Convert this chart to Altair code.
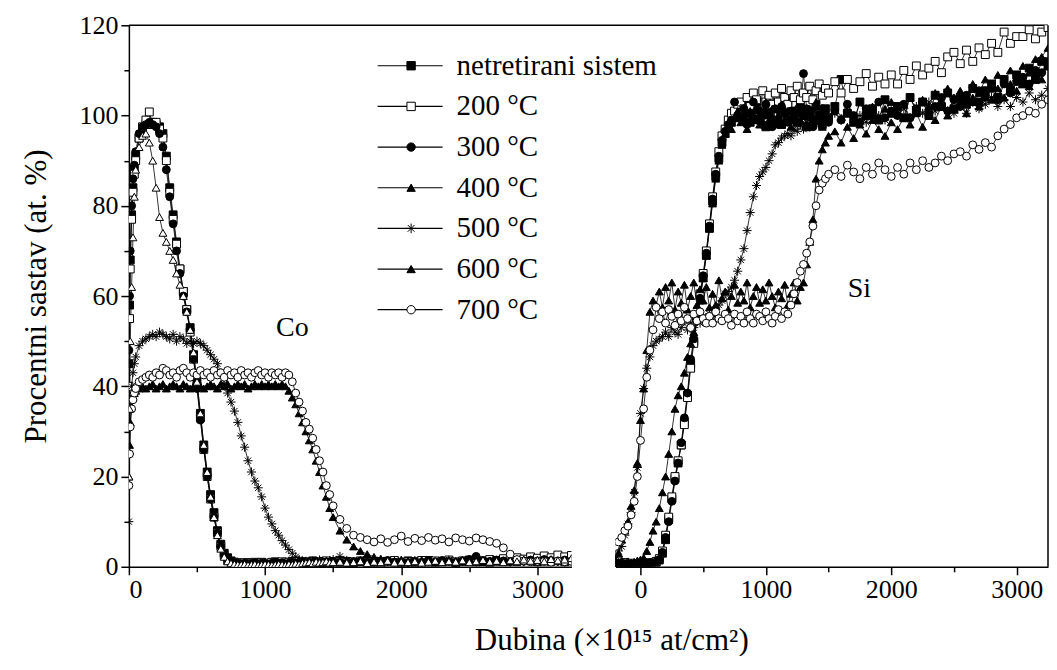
import altair as alt
import pandas as pd

# ---------------- data ----------------
SERIES = ["netretirani sistem", "200 °C", "300 °C", "400 °C", "500 °C", "600 °C", "700 °C"]
ASTERISK = "M-1.15,0L1.15,0M0,-1.15L0,1.15M-0.8,-0.8L0.8,0.8M-0.8,0.8L0.8,-0.8"
SHAPES = ["square", "square", "circle", "triangle-up", ASTERISK, "triangle-up", "circle"]
FILLS = ["black", "white", "black", "black", "black", "black", "white"]
LINE_COLORS = ["black", "black", "black", "black", "black", "black", "black"]

Y_TICKS = [0, 10, 20, 30, 40, 50, 60, 70, 80, 90, 100, 110, 120]
X_TICKS = [0, 500, 1000, 1500, 2000, 2500, 3000]

# Co panel depth grid
CO_X = [0, 5, 10, 20, 30, 40, 50,
        75, 100, 125, 150, 175, 200, 225, 250, 275, 300,
        325, 350, 375, 400, 425, 450, 475, 500, 525, 550,
        575, 600, 625, 650, 675, 700, 725, 750, 775, 800,
        825, 850, 875, 900, 925, 950, 975, 1000, 1025, 1050,
        1075, 1100, 1125, 1150, 1175, 1200, 1225, 1250, 1275, 1300,
        1325, 1350, 1375, 1400, 1425, 1450, 1475, 1500,
        1550, 1600, 1650, 1700, 1750, 1800, 1850, 1900, 1950, 2000,
        2050, 2100, 2150, 2200, 2250, 2300, 2350, 2400, 2450, 2500,
        2550, 2600, 2650, 2700, 2750, 2800, 2850, 2900, 2950, 3000,
        3050, 3100, 3150, 3200, 3250]

CO_NETRETIRANI = [45, 58, 68, 78, 84, 88, 91,
                  95, 97, 98, 98.5, 98.5, 98, 97.5, 96, 91, 84,
                  78, 72, 66, 61, 57, 53, 47, 41, 34, 27,
                  21, 16, 12, 8, 5, 3, 2, 1.3, 1.0, 0.8,
                  0.8, 0.6, 0.9, 0.7, 0.5, 0.8, 1.0, 0.7, 0.6, 0.9,
                  1.1, 0.8, 0.7, 1.0, 0.9, 1.2, 1.0, 0.8, 1.1, 0.9,
                  1.0, 1.3, 0.9, 1.0, 1.2, 0.8, 1.0, 1.1,
                  1.0, 1.2, 0.9, 1.1, 1.3, 1.0, 0.8, 1.2, 1.1, 0.9,
                  1.3, 1.0, 1.2, 1.4, 1.0, 1.1, 1.3, 0.9, 1.2, 1.5,
                  1.1, 1.3, 1.0, 1.4, 1.2, 1.6, 1.3, 1.5, 1.8, 1.4,
                  1.7, 1.5, 1.9, 1.6, 1.8]
CO_200 = [40, 55, 66, 77, 83, 87, 90,
          95, 97.5, 99, 100.8, 98, 98.5, 97, 95, 90, 83,
          77, 71.5, 66, 61, 57, 52, 46, 40, 33, 26,
          20, 15, 11, 7.5, 4.5, 2.5, 1.5, 1.2, 1.0, 0.9,
          0.7, 0.9, 0.6, 0.8, 1.0, 0.7, 0.9, 0.6, 0.8, 1.0,
          0.9, 0.7, 1.1, 0.8, 1.0, 0.9, 1.2, 0.8, 1.0, 1.1,
          0.9, 1.2, 1.0, 0.8, 1.1, 1.3, 0.9, 1.0,
          1.2, 0.9, 1.1, 1.3, 1.0, 1.2, 0.9, 1.1, 1.4, 1.0,
          1.2, 1.1, 1.4, 1.0, 1.3, 1.2, 1.5, 1.1, 1.3, 1.2,
          1.5, 1.2, 1.6, 1.4, 1.8, 1.5, 2.0, 1.7, 2.2, 1.9,
          2.4, 2.0, 2.6, 2.2, 2.5]
CO_300 = [48, 60, 70, 80, 86, 89, 92,
          96, 97.5, 98, 98.5, 98, 97.5, 96, 93, 88, 82,
          76, 70, 65, 60, 56.5, 52.5, 46, 39.5, 32.5, 26,
          20, 15, 11, 7.5, 4.5, 2.6, 1.6, 1.1, 0.9, 0.7,
          0.6, 0.8, 0.5, 0.7, 0.9, 0.6, 0.8, 0.7, 0.5, 0.8,
          1.0, 0.7, 0.9, 0.6, 0.8, 1.0, 0.7, 0.9, 1.1, 0.8,
          1.0, 0.9, 1.2, 0.8, 1.0, 1.1, 0.9, 1.2,
          1.0, 0.8, 1.1, 1.3, 0.9, 1.0, 1.2, 1.4, 1.0, 1.1,
          0.9, 1.2, 1.0, 1.3, 1.1, 1.4, 1.2, 1.0, 1.3, 1.6,
          2.3, 1.4, 1.2, 1.5, 1.3, 1.1, 1.4, 1.2, 1.5, 1.3,
          1.6, 1.4, 1.2, 1.5, 1.3]
CO_400 = [20, 35, 50, 62, 73, 82, 88,
          93, 95.5, 96, 94, 90, 84, 77.5, 74, 72, 70,
          68, 65, 62.5, 60, 56.5, 52.5, 47.5, 41, 34, 27,
          21, 15.5, 11, 7, 4, 2.2, 1.2, 0.8, 0.6, 0.5,
          0.5, 0.6, 0.4, 0.5, 0.6, 0.4, 0.5, 0.6, 0.5, 0.4,
          0.5, 0.6, 0.5, 0.4, 0.6, 0.5, 0.7, 0.6, 0.8, 0.9,
          1.0, 0.8, 1.1, 0.9, 1.0, 1.2, 0.9, 1.0,
          1.1, 0.9, 1.0, 1.2, 0.8, 1.1, 1.0, 1.3, 0.9, 1.1,
          1.0, 1.2, 0.9, 1.1, 1.3, 1.0, 1.2, 1.1, 1.4, 1.0,
          1.2, 1.5, 1.1, 1.3, 1.0, 1.4, 1.2, 1.6, 1.3, 1.5,
          1.2, 1.7, 1.4, 1.6, 1.9]
CO_500 = [10, 25, 35, 40, 43, 45, 46.5,
          49, 50, 50.5, 51, 51.5, 51, 52, 51.5, 51, 50.5,
          51.5, 50, 51, 50.5, 49.5, 50, 49.5, 50, 49.5, 49,
          48, 47, 46, 45, 43, 40.5, 38.5, 36.5, 34.5, 32,
          29, 26.5, 23.5, 21, 19, 17.5, 15.5, 13, 11, 9.5,
          8, 7, 5.8, 4.8, 3.8, 3, 2.2, 1.6, 1.3, 1.2,
          1.0, 1.3, 1.1, 1.5, 1.2, 1.0, 1.4, 1.6,
          2.3, 1.4, 1.1, 1.3, 1.0, 1.2, 1.5, 1.1, 1.3, 1.0,
          1.2, 1.4, 1.1, 1.3, 1.0, 1.2, 1.5, 1.1, 1.3, 1.2,
          1.0, 1.3, 1.1, 1.4, 1.2, 1.0, 1.3, 1.1, 1.2, 1.0,
          1.3, 1.1, 1.2, 1.0, 1.1]
CO_600 = [20, 27, 32, 35.5, 37.5, 38.5, 39,
          39.5, 40, 39.5, 40, 40.5, 39.5, 40, 40.5, 39.5, 40,
          40.5, 40, 39.5, 40.5, 40, 39.5, 40, 40.5, 40, 39.5,
          40, 40.5, 40, 39.5, 40.5, 40, 40.5, 39.5, 40, 40.5,
          40, 40.5, 39.5, 40, 40.5, 40, 40.5, 40, 40.5, 40,
          40.5, 40, 40.5, 40, 39, 37.5, 36, 34, 32, 30,
          28, 26, 23.5, 21, 18, 15.5, 13, 11,
          8, 6, 4.5, 3.5, 2.8, 2.2, 1.8, 1.5, 1.3, 1.6,
          1.4, 1.2, 1.5, 1.3, 1.1, 1.4, 1.2, 1.0, 1.3, 1.1,
          1.2, 1.0, 1.3, 1.1, 1.2, 1.4, 1.1, 1.3, 1.2, 1.0,
          1.2, 1.1, 1.3, 1.0, 1.2]
CO_700 = [18, 25, 31, 35, 37, 38.5, 39.5,
          41, 41.5, 42, 42.5, 42, 43, 42.5, 44, 43.5, 42.5,
          43, 42, 43.5, 44, 43, 42, 43, 42.5, 43.5, 42.5,
          43, 42, 43.5, 42.5, 43, 42, 43.5, 42.5, 43, 42,
          43.5, 42.5, 43, 42, 43, 43.5, 42.5, 43, 42, 43,
          42.5, 43, 42, 43, 42.5, 41, 38.5, 36.5, 34.5, 32,
          30.5, 28.5, 26, 23.5, 21, 18, 16, 13.5,
          10.5, 8.5, 7, 6.5, 6, 5.5, 6.2, 5.4, 6.0, 6.8,
          5.6, 6.3, 5.8, 6.5, 5.9, 6.2, 5.5, 6.4, 6.0, 5.7,
          6.4, 6.0, 5.6, 5.2, 4.2, 2.8, 1.6, 1.3, 1.1, 1.2,
          1.2, 1.0, 1.3, 1.1, 1.2]

# Si panel depth grid
SI_X = [-200, -175, -150, -125, -100, -75, -50, -25, 0, 25,
        50, 75, 100, 125, 150, 175, 200, 225, 250, 275,
        300, 325, 350, 375, 400, 425, 450, 475, 500, 525,
        550, 575, 600, 625, 650, 675, 700, 725, 750, 775,
        800, 825, 850, 875, 900, 925, 950, 975, 1000, 1025,
        1050, 1075, 1100, 1125, 1150, 1175, 1200, 1225, 1250, 1275,
        1300, 1325, 1350, 1375, 1400, 1425, 1450, 1475, 1500,
        1550, 1600, 1650, 1700, 1750, 1800, 1850, 1900, 1950, 2000,
        2050, 2100, 2150, 2200, 2250, 2300, 2350, 2400, 2450, 2500,
        2550, 2600, 2650, 2700, 2750, 2800, 2850, 2900, 2950, 3000,
        3050, 3100, 3150, 3200, 3250]

SI_NETRETIRANI = [1.0, 0.8, 0.6, 0.9, 0.5, 0.7, 0.4, 0.6, 0.5, 0.7,
                  0.6, 0.8, 0.7, 1.0, 1.5, 3.0, 6.0, 10.5, 15.0, 19.5,
                  23.0, 27.0, 32.0, 38.0, 45.0, 50.0, 55.0, 60.0, 64.0, 69.0,
                  75.0, 81.0, 86.5, 90.5, 94.0, 96.0, 97.5, 98.5, 99.5, 100.5,
                  101.0, 99.0, 102.5, 98.5, 100.0, 103.0, 99.5, 101.0, 97.5, 100.5,
                  102.0, 99.0, 101.5, 98.0, 100.5, 103.0, 99.0, 101.0, 98.5, 102.0,
                  100.0, 97.5, 101.0, 99.0, 102.5, 100.0, 98.0, 101.5, 99.5,
                  102.0, 108.0, 100.5, 98.5, 103.0, 100.0, 101.5, 99.0, 103.5, 100.5,
                  102.0, 99.5, 104.0, 101.0, 103.0, 100.0, 104.5, 102.0, 105.0, 101.5,
                  104.0, 102.5, 106.0, 103.0, 105.5, 107.0, 104.0, 108.0, 105.5, 109.0,
                  107.0, 110.5, 108.0, 112.0, 111.0]
SI_200 = [0.8, 1.1, 0.7, 0.9, 0.6, 0.8, 0.5, 0.7, 0.6, 0.8,
          0.7, 0.9, 0.8, 1.2, 1.8, 3.5, 7.0, 11.0, 15.5, 20.0,
          23.5, 27.0, 31.5, 37.5, 44.0, 49.5, 55.0, 60.5, 65.0, 70.0,
          76.0, 82.0, 87.5, 92.0, 95.5, 97.0, 99.0, 100.5, 101.0, 102.5,
          103.0, 101.5, 104.0, 102.0, 105.0, 103.5, 101.0, 105.5, 103.0, 104.5,
          102.5, 105.0, 103.0, 106.0, 104.0, 102.5, 105.5, 104.0, 106.5, 103.5,
          105.0, 104.0, 106.5, 103.5, 105.5, 107.0, 104.5, 106.0, 105.0,
          107.5, 105.0, 108.0, 106.0, 107.5, 109.3, 106.5, 108.5, 107.0, 109.0,
          107.0, 110.0, 108.0, 111.0, 109.0, 110.5, 112.0, 109.5, 113.0, 114.0,
          111.5, 114.5, 112.0, 115.0, 113.5, 116.0, 114.0, 118.5, 116.0, 117.5,
          117.5, 119.0, 117.0, 118.5, 119.5]
SI_300 = [0.9, 0.6, 0.8, 0.5, 0.7, 0.4, 0.6, 0.5, 0.8, 0.6,
          0.7, 0.9, 0.8, 1.1, 1.6, 3.2, 6.5, 10.0, 14.5, 19.0,
          23.0, 27.5, 33.0, 38.5, 46.0, 50.5, 55.0, 59.5, 64.5, 69.5,
          75.5, 81.5, 87.0, 91.0, 94.5, 96.5, 98.0, 99.0, 103.0, 100.0,
          99.5, 101.5, 98.0, 100.5, 103.0, 99.0, 101.0, 98.0, 102.5, 100.0,
          97.5, 101.5, 99.0, 102.0, 100.5, 98.5, 101.0, 99.5, 101.0, 100.5,
          109.3, 101.5, 100.0, 97.5, 102.0, 99.0, 101.5, 100.0, 98.5,
          101.0, 99.0, 102.5, 100.0, 98.5, 101.5, 100.0, 103.0, 99.5, 101.0,
          100.0, 102.5, 99.5, 101.5, 103.0, 100.5, 102.0, 104.0, 101.0, 103.5,
          102.0, 104.5, 103.0, 105.5, 104.0, 106.0, 103.5, 107.0, 105.0, 107.5,
          108.5, 107.0, 110.0, 109.5, 112.0]
SI_400 = [1.5, 1.0, 1.3, 0.8, 1.2, 0.9, 1.1, 1.4, 1.6, 2.0,
          3.5, 5.5, 8.0, 10.0, 13.0, 16.5, 20.0, 25.0, 30.0, 35.0,
          38.0, 40.0, 43.0, 46.5, 49.5, 52.0, 55.0, 59.0, 64.0, 69.0,
          75.0, 80.5, 86.0, 90.0, 93.5, 96.0, 98.0, 97.0, 99.5, 101.0,
          98.5, 100.5, 97.0, 101.0, 99.0, 102.0, 98.0, 100.0, 103.0, 99.0,
          101.5, 98.0, 100.0, 102.5, 99.0, 101.0, 97.5, 100.5, 102.0, 99.0,
          100.5, 98.0, 101.5, 99.0, 103.0, 100.0, 97.5, 101.0, 99.5,
          102.0, 99.5, 101.0, 98.5, 103.0, 100.0, 102.0, 99.0, 101.5, 103.0,
          100.5, 102.5, 104.0, 101.0, 103.5, 102.0, 105.0, 103.0, 106.0, 104.0,
          105.5, 104.0, 107.0, 105.0, 108.0, 106.5, 109.0, 107.5, 110.0, 108.5,
          111.0, 109.5, 112.5, 113.0, 115.0]
SI_500 = [2.5, 3.5, 4.5, 7.0, 9.5, 12.0, 16.5, 22.0, 34.0, 39.5,
          44.0, 46.5, 49.0, 50.0, 50.5, 51.0, 52.0, 51.0, 53.0, 52.0,
          51.5, 53.0, 54.5, 52.5, 54.0, 53.0, 55.0, 54.0, 55.5, 55.0,
          56.0, 55.5, 57.0, 58.0, 59.0, 60.5, 61.0, 62.0, 63.5, 65.5,
          68.0, 70.5, 74.5, 78.5, 82.0, 84.5, 86.5, 87.5, 88.5, 90.0,
          91.5, 93.5, 94.0, 95.0, 95.5, 96.0, 95.5, 97.0, 96.5, 98.0,
          97.0, 98.5, 97.5, 99.0, 98.0, 99.5, 98.5, 100.0, 99.0,
          100.5, 99.0, 101.0, 99.5, 100.0, 98.5, 101.5, 100.0, 99.0, 101.0,
          100.0, 101.5, 99.5, 102.0, 100.5, 103.0, 101.0, 102.5, 101.0, 100.5,
          102.0, 100.5, 103.0, 101.5, 102.5, 104.0, 102.0, 103.5, 102.0, 104.0,
          103.0, 105.0, 103.5, 104.5, 106.0]
SI_600 = [1.5, 3.0, 6.0, 8.0, 10.0, 13.5, 17.0, 23.0, 32.5, 39.5,
          48.0, 56.5, 59.0, 58.0, 61.0, 57.5, 62.0, 59.0, 63.0, 57.0,
          61.0, 58.5, 62.5, 57.0, 60.0, 63.0, 58.0, 61.5, 59.0, 62.0,
          57.5, 60.5, 58.0, 63.5, 59.5, 61.0, 57.0, 60.0, 62.5, 58.5,
          61.0, 59.0, 63.0, 57.5, 60.0, 62.0, 58.5, 61.5, 59.0, 63.0,
          60.0, 57.5, 61.0, 59.5, 62.5, 58.0, 60.5, 63.0, 59.0, 62.0,
          63.0, 67.0, 72.0, 77.0, 86.0, 90.0, 92.5, 94.0, 95.5,
          96.5, 94.0, 97.5, 95.0, 98.0, 96.0, 99.0, 97.0, 95.5, 98.5,
          97.0, 99.5, 98.0, 100.5, 97.5, 101.0, 99.0, 102.0, 100.0, 101.5,
          103.0, 100.5, 104.0, 102.0, 105.0, 103.5, 106.0, 104.0, 107.0, 105.5,
          108.0, 106.5, 109.5, 108.0, 111.0]
SI_700 = [4.5, 5.5, 6.5, 8.0, 9.0, 11.5, 14.5, 20.0, 28.0, 35.0,
          42.0, 48.0, 52.5, 57.5, 55.0, 56.5, 54.0, 57.0, 55.5, 53.5,
          56.0, 54.5, 57.5, 55.0, 53.0, 56.0, 54.5, 56.5, 55.0, 54.0,
          55.5, 54.0, 56.5, 55.0, 54.5, 56.0, 55.0, 53.5, 56.0, 54.5,
          55.5, 54.0, 56.5, 55.0, 54.0, 56.0, 55.5, 54.5, 56.5, 55.0,
          54.0, 55.5, 57.0, 55.0, 56.5, 56.0, 58.0, 60.5, 63.0, 65.5,
          67.0, 69.5, 72.0, 75.5, 80.0, 83.5, 85.0, 86.0, 87.0,
          88.0, 86.5, 89.0, 87.5, 86.0, 88.5, 87.0, 89.5, 88.0, 86.5,
          88.5, 87.0, 89.5, 88.0, 90.0, 88.5, 89.5, 91.0, 90.0, 91.5,
          92.0, 91.0, 93.5, 92.5, 94.0, 93.0, 95.5, 97.0, 98.0, 99.5,
          100.0, 101.0, 100.5, 102.5, 103.5]

CO_Y = [CO_NETRETIRANI, CO_200, CO_300, CO_400, CO_500, CO_600, CO_700]
SI_Y = [SI_NETRETIRANI, SI_200, SI_300, SI_400, SI_500, SI_600, SI_700]

PANEL_LABEL_TEXT = ["Co", "Si"]
PANEL_LABEL_X = [1200, 1745]
PANEL_LABEL_Y = [53, 61.5]

X_TITLE = "Dubina (×10¹⁵ at/cm²)"
Y_TITLE = "Procentni sastav (at. %)"

# line-legend keys differ from the marker-legend keys so the two legends stay separate
LINE_KEYS = [s + "\u200b" for s in SERIES]


def long_frame(xs, ys_list):
    rows = []
    for name, key, ys in zip(SERIES, LINE_KEYS, ys_list):
        assert len(xs) == len(ys), (name, len(xs), len(ys))
        for x, y in zip(xs, ys):
            rows.append({"x": x, "y": y, "series": name, "series_l": key})
    return pd.DataFrame(rows)


co_df = long_frame(CO_X, CO_Y)
si_df = long_frame(SI_X, SI_Y)

# ---------------- layout ----------------
W1, W2, H, GAP = 443, 433, 542, 44
FONT = "Liberation Serif"

shape_scale = alt.Scale(domain=SERIES, range=SHAPES)
fill_scale = alt.Scale(domain=SERIES, range=FILLS)
stroke_scale = alt.Scale(domain=SERIES, range=LINE_COLORS)
line_scale = alt.Scale(domain=LINE_KEYS, range=LINE_COLORS)
y_scale = alt.Scale(domain=[0, 120], nice=False, zero=False)

SHAPE_LEGEND = alt.Legend(
    orient="none", legendX=268, legendY=26, title=None, padding=0,
    symbolSize=70, symbolStrokeColor="black", symbolStrokeWidth=1,
    labelFont=FONT, labelFontSize=29, labelColor="black", labelLimit=400,
    labelOffset=31, rowPadding=10.7,
)
LINE_LEGEND = alt.Legend(
    orient="none", legendX=267, legendY=26, title=None, padding=0,
    symbolType="M-6.5,0L6.5,0", symbolSize=100, symbolStrokeColor="black",
    symbolStrokeWidth=1.2, labelFont=FONT, labelFontSize=29, labelOpacity=0,
    labelExpr="''", labelLimit=400, rowPadding=10.7,
)

x_axis = alt.Axis(
    values=X_TICKS, format="d", title=None, grid=False,
    labelExpr="datum.value % 1000 == 0 ? datum.label : ''",
    tickSize={"condition": {"test": "datum.value % 1000 == 0", "value": 8}, "value": 5},
    labelPadding=2,
)
y_axis = alt.Axis(
    values=Y_TICKS, format="d", grid=False,
    labelExpr="datum.value % 20 == 0 ? datum.label : ''",
    tickSize={"condition": {"test": "datum.value % 20 == 0", "value": 8}, "value": 5},
    labelPadding=3, titlePadding=26,
)


def make_panel(df, xdomain, width, left, label_idx):
    xs = alt.Scale(domain=xdomain, nice=False, zero=False)
    X = alt.X("x:Q", scale=xs, axis=x_axis)
    Y = alt.Y("y:Q", scale=y_scale, axis=y_axis if left else None, title=Y_TITLE)

    lines = alt.Chart(df).mark_line(strokeWidth=0.8, clip=True).encode(
        x=X, y=Y,
        color=alt.Color("series_l:N", scale=line_scale, legend=LINE_LEGEND if left else None),
        detail="series:N",
    )
    main = df[df["series"] != "400 °C"] if left else df
    leg = SHAPE_LEGEND if left else None
    points = alt.Chart(main).mark_point(
        filled=True, size=62, strokeWidth=1, opacity=1, clip=True
    ).encode(
        x=X, y=Y,
        shape=alt.Shape("series:N", scale=shape_scale, legend=leg),
        fill=alt.Fill("series:N", scale=fill_scale, legend=leg),
        stroke=alt.Stroke("series:N", scale=stroke_scale, legend=leg),
    )
    layers = [lines, points]
    if left:
        open_tri = alt.Chart(df[df["series"] == "400 °C"]).mark_point(
            shape="triangle-up", filled=True, fill="white", stroke="black",
            strokeWidth=1, size=62, opacity=1, clip=True
        ).encode(x=X, y=Y)
        layers.append(open_tri)
    lab = pd.DataFrame({
        "x": [PANEL_LABEL_X[label_idx]],
        "y": [PANEL_LABEL_Y[label_idx]],
        "label": [PANEL_LABEL_TEXT[label_idx]],
    })
    text = alt.Chart(lab).mark_text(font=FONT, fontSize=28, color="black").encode(
        x=X, y=Y, text="label:N"
    )
    layers.append(text)
    frame_df = pd.DataFrame({"edge": ["frame"]})
    if left:
        top = alt.Chart(frame_df).mark_rule(color="black", strokeWidth=1.5).encode(
            x=alt.value(0), x2=alt.value(W1 + GAP + W2), y=alt.value(0)
        )
        layers.append(top)
    else:
        right = alt.Chart(frame_df).mark_rule(color="black", strokeWidth=1.5).encode(
            x=alt.value(W2), y=alt.value(0), y2=alt.value(H)
        )
        layers.append(right)
    return alt.layer(*layers).properties(width=width, height=H)


left_panel = make_panel(co_df, [0, 3250], W1, True, 0)
right_panel = make_panel(si_df, [-200, 3250], W2, False, 1)

chart = alt.hconcat(left_panel, right_panel, spacing=GAP, bounds="flush").resolve_scale(
    x="independent"
).resolve_legend(
    color="independent", shape="independent", fill="independent", stroke="independent"
).properties(
    padding={"left": 13, "top": 4, "right": 0, "bottom": 0},
    title=alt.TitleParams(
        X_TITLE, orient="bottom", anchor="middle", frame="bounds", font=FONT,
        fontSize=31, fontWeight="normal", color="black", offset=23, dx=77,
    ),
).configure_view(stroke=None).configure_axis(
    domainColor="black", domainWidth=1.5, tickColor="black", tickWidth=1.5,
    labelColor="black", labelFont=FONT, labelFontSize=26,
    titleFont=FONT, titleFontSize=31, titleFontWeight="normal", titleColor="black",
)

chart.save("out.html", embed_options={"renderer": "svg", "actions": False})
